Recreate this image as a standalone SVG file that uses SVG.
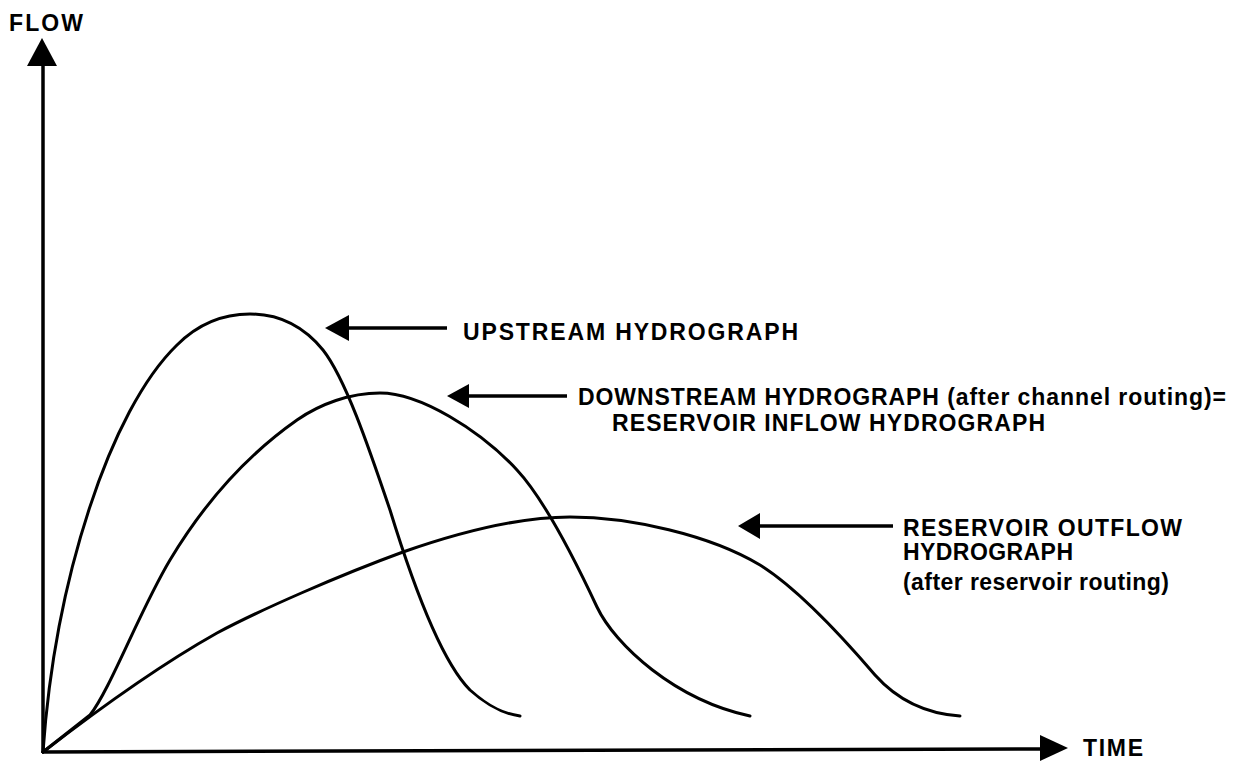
<svg xmlns="http://www.w3.org/2000/svg" width="1249" height="762" viewBox="0 0 1249 762">
<style>
.t{font-family:"Liberation Sans",Arial,sans-serif;font-weight:bold;font-size:23px;fill:#000}
.c{fill:none;stroke:#000;stroke-width:3;stroke-linecap:round;stroke-linejoin:round}
.ax{stroke:#000;stroke-width:3.5;fill:none}
.ah{fill:#000;stroke:none}
</style>
<rect width="1249" height="762" fill="#fff"/>
<g id="axes">
<line class="ax" x1="43" y1="753" x2="43" y2="60"/>
<polygon class="ah" points="42,38 27,66 57,66"/>
<line class="ax" x1="42" y1="752" x2="1045" y2="749"/>
<polygon class="ah" points="1068,748 1040,735 1040,761"/>
<text id="flow" class="t" x="9" y="31" textLength="74" lengthAdjust="spacing">FLOW</text>
<text id="time" class="t" x="1083" y="756" textLength="60" lengthAdjust="spacing">TIME</text>
</g>
<g id="curves">
<path id="upstream-curve" class="c" d="M43,752 C55,580 110,410 177,345 C200,322 225,314 250,314 C280,314 305,328 323,350 C345,378 368,445 390,510 C410,575 440,660 470,690 C490,708 505,714 520,716"/>
<path id="downstream-curve" class="c" d="M43,752 L90,715 C110,690 140,610 170,560 C200,510 240,460 297,420 C320,404 350,393 380,393 C420,393 480,430 517,470 C545,500 575,560 597,607 C615,645 675,700 750,716"/>
<path id="outflow-curve" class="c" d="M43,752 C100,708 160,665 217,633 C260,610 340,575 403,552 C460,532 520,517 570,517 C630,517 710,535 760,565 C800,590 845,640 875,675 C900,703 930,714 960,716"/>
</g>
<g id="connectors">
<line class="ax" x1="345" y1="328" x2="447" y2="328"/>
<polygon class="ah" points="325,328 349,315 349,341"/>
<line class="ax" x1="465" y1="396" x2="567" y2="396"/>
<polygon class="ah" points="447,396 469,384 469,408"/>
<line class="ax" x1="756" y1="526" x2="893" y2="526"/>
<polygon class="ah" points="738,526 760,513 760,539"/>
</g>
<g id="label-upstream">
<text class="t" x="463" y="340" textLength="335" lengthAdjust="spacing">UPSTREAM HYDROGRAPH</text>
</g>
<g id="label-downstream">
<text class="t" x="578" y="405" textLength="648" lengthAdjust="spacing">DOWNSTREAM HYDROGRAPH (after channel routing)=</text>
<text class="t" x="612" y="431" textLength="433" lengthAdjust="spacing">RESERVOIR INFLOW HYDROGRAPH</text>
</g>
<g id="label-outflow">
<text class="t" x="903" y="536" textLength="279" lengthAdjust="spacing">RESERVOIR OUTFLOW</text>
<text class="t" x="903" y="560" textLength="170" lengthAdjust="spacing">HYDROGRAPH</text>
<text class="t" x="903" y="590" textLength="266" lengthAdjust="spacing">(after reservoir routing)</text>
</g>
</svg>
